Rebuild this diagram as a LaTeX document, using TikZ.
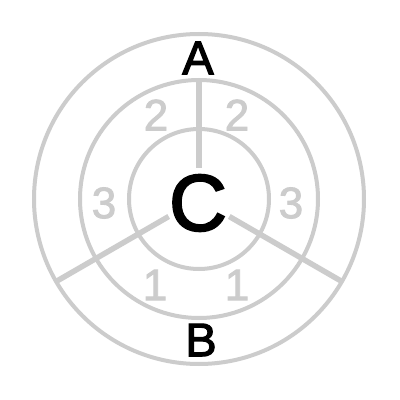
\documentclass[tikz,border=0pt]{standalone}
\usepackage{fontspec}
\setmainfont{Liberation Sans}
\newfontfamily\heavysans[FakeBold=2.5]{Liberation Sans}
\newfontfamily\numsans[FakeBold=2]{Liberation Sans}
\usetikzlibrary{calc}
\definecolor{ringgray}{HTML}{CCCCCC}
\begin{document}
\begin{tikzpicture}[x=1pt,y=1pt,
  ring/.style={draw=ringgray,line width=4pt},
  spoke/.style={draw=ringgray,line width=5.5pt},
  letter/.style={inner sep=0pt,text=black,font=\heavysans\fontsize{47}{47}\selectfont},
  bigletter/.style={inner sep=0pt,text=black,font=\heavysans\fontsize{80}{80}\selectfont},
  num/.style={inner sep=0pt,text=ringgray,font=\numsans\fontsize{44}{44}\selectfont}]
\useasboundingbox (0,0) rectangle (400,400);
\fill[white] (0,0) rectangle (400,400);
\coordinate (O) at (199,201);
\draw[ring] (O) circle (165pt);
\draw[ring] (O) circle (119pt);
\draw[ring] (O) circle (70pt);
\coordinate (t1) at ($(O)+(90:31pt)$);
\coordinate (t2) at ($(O)+(90:119pt)$);
\coordinate (l1) at ($(O)+(210:35pt)$);
\coordinate (l2) at ($(O)+(210:164pt)$);
\coordinate (r1) at ($(O)+(330:35pt)$);
\coordinate (r2) at ($(O)+(330:164pt)$);
\draw[spoke] (t1) -- (t2);
\draw[spoke] (l1) -- (l2);
\draw[spoke] (r1) -- (r2);
\node[letter] (A) at (198,342) {A};
\node[letter] (B) at (201,60) {B};
\node[bigletter] (C) at (198,197) {C};
\node[num] (n2l) at (156,285) {2};
\node[num] (n2r) at (237,285) {2};
\node[num] (n3l) at (104,197) {3};
\node[num] (n3r) at (291,197) {3};
\node[num] (n1l) at (155,115) {1};
\node[num] (n1r) at (237,115) {1};
\end{tikzpicture}
\end{document}
